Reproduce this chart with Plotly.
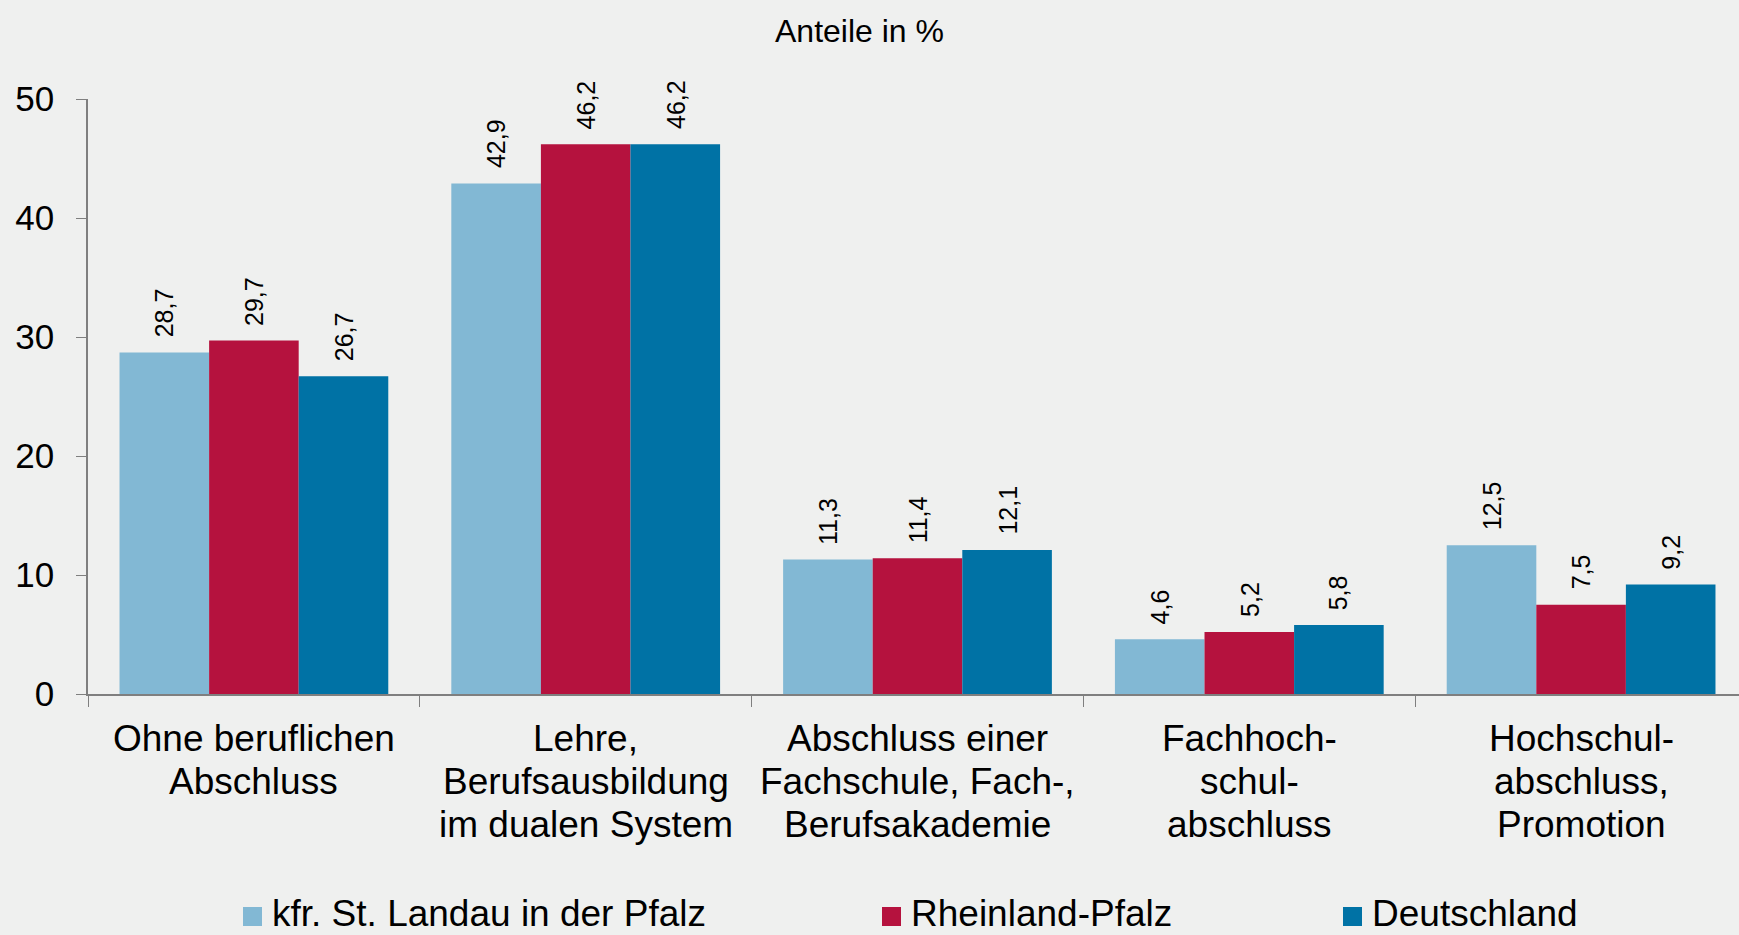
import plotly.graph_objects as go

categories = [
    "Ohne beruflichen<br>Abschluss",
    "Lehre,<br>Berufsausbildung<br>im dualen System",
    "Abschluss einer<br>Fachschule, Fach-,<br>Berufsakademie",
    "Fachhoch-<br>schul-<br>abschluss",
    "Hochschul-<br>abschluss,<br>Promotion",
]
series_names = ["kfr. St. Landau in der Pfalz", "Rheinland-Pfalz", "Deutschland"]
landau = [28.7, 42.9, 11.3, 4.6, 12.5]
rlp = [29.7, 46.2, 11.4, 5.2, 7.5]
deutschland = [26.7, 46.2, 12.1, 5.8, 9.2]
y_ticks = [0, 10, 20, 30, 40, 50]
title_text = "Anteile in %"

colors = ["#82B8D4", "#B5123E", "#0072A5"]
series = [landau, rlp, deutschland]
FONT = "Liberation Sans, Arial, sans-serif"
BG = "#EFF0EF"

W, H = 1739, 935
ML, MR, MT, MB = 88, 0, 99, 241
plot_w = W - ML - MR
plot_h = H - MT - MB
unit_px = 331.8
x_hi = -0.5 + plot_w / unit_px

def px_to_paper_x(px):
    return (px - ML) / plot_w

def px_to_paper_y(py):
    return (H - MB - py) / plot_h

bargap = 0.19
bar_w = (1 - bargap) / 3

fig = go.Figure()
xs = list(range(len(categories)))
for name, vals, col in zip(series_names, series, colors):
    fig.add_trace(go.Bar(
        x=xs, y=vals, name=name,
        marker=dict(color=col, line=dict(width=0)),
        showlegend=False, hoverinfo="skip",
    ))

annotations = []
# value labels
for k, vals in enumerate(series):
    off = (k - 1) * bar_w
    for i, v in enumerate(vals):
        annotations.append(dict(
            x=i + off, y=v, xref="x", yref="y",
            text=f"{v:.1f}".replace(".", ","),
            textangle=-90, showarrow=False,
            xanchor="center", yanchor="bottom", yshift=13,
            font=dict(family=FONT, size=25, color="#000000"),
        ))

# category labels
line1_center = 738.2
line_step = 43
for i, cat in enumerate(categories):
    for j, line in enumerate(cat.split("<br>")):
        annotations.append(dict(
            x=i, xref="x", y=px_to_paper_y(line1_center + j * line_step), yref="paper",
            text=line, showarrow=False, xanchor="center", yanchor="middle",
            font=dict(family=FONT, size=37, color="#000000"),
        ))

# title
annotations.append(dict(
    x=px_to_paper_x(859), xref="paper", y=px_to_paper_y(31), yref="paper",
    text=title_text, showarrow=False, xanchor="center", yanchor="middle",
    font=dict(family=FONT, size=32, color="#000000"),
))

# manual legend
shapes = []
legend_sq_left = [243, 882, 1343]
sq = 19
sq_top = 907
for name, col, lx in zip(series_names, colors, legend_sq_left):
    shapes.append(dict(
        type="rect", xref="paper", yref="paper",
        x0=px_to_paper_x(lx), x1=px_to_paper_x(lx + sq),
        y0=px_to_paper_y(sq_top + sq), y1=px_to_paper_y(sq_top),
        fillcolor=col, line=dict(width=0),
    ))
    annotations.append(dict(
        x=px_to_paper_x(lx + 28), xref="paper", y=px_to_paper_y(913.8), yref="paper",
        text=name, showarrow=False, xanchor="left", yanchor="middle", borderpad=0,
        font=dict(family=FONT, size=37, color="#000000"),
    ))

fig.update_layout(
    width=W, height=H,
    margin=dict(l=ML, r=MR, t=MT, b=MB, pad=0),
    paper_bgcolor=BG, plot_bgcolor=BG,
    barmode="group", bargap=bargap, bargroupgap=0,
    showlegend=False,
    annotations=annotations, shapes=shapes,
    xaxis=dict(
        range=[-0.5, x_hi], tickmode="array",
        tickvals=[i - 0.5 for i in range(len(categories) + 1)],
        showticklabels=False, ticks="outside", ticklen=11, tickwidth=1.3,
        tickcolor="#7F7F7F", showline=True, linecolor="#7F7F7F", linewidth=1.5,
        showgrid=False, zeroline=False, fixedrange=True,
    ),
    yaxis=dict(
        range=[0, 50], tickmode="array", tickvals=y_ticks,
        ticktext=[str(t) for t in y_ticks],
        ticks="outside", ticklen=10, tickwidth=1.3, tickcolor="#7F7F7F",
        showline=True, linecolor="#7F7F7F", linewidth=1.5,
        showgrid=False, zeroline=False, ticklabelstandoff=15,
        tickfont=dict(family=FONT, size=35, color="#000000"),
        fixedrange=True,
    ),
)

fig.write_html(
    "out.html",
    config={"displayModeBar": False},
    post_script="document.body.style.margin='0';document.body.style.overflow='hidden';document.body.style.background='" + BG + "';",
)
